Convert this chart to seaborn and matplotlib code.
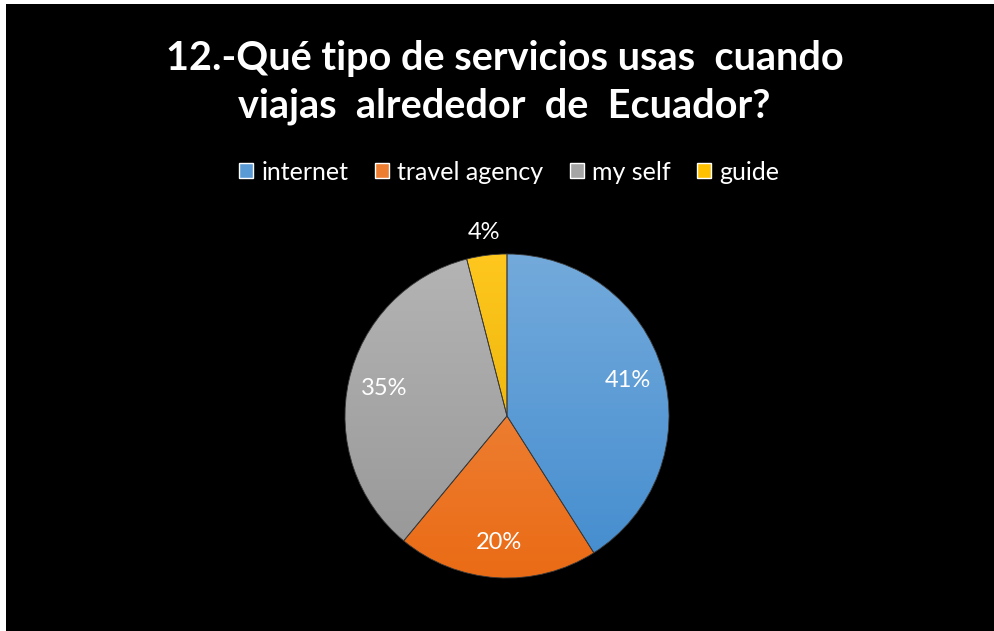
import colorsys
import numpy as np
import matplotlib
matplotlib.use("Agg")
import matplotlib.pyplot as plt
import matplotlib.colors as mcolors
from matplotlib.patches import Rectangle
import seaborn as sns

# data
categories = ["internet", "travel agency", "my self", "guide"]
shares = [41, 20, 35, 4]
colors = ["#5B9BD5", "#ED7D31", "#A5A5A5", "#FFC000"]
title = "12.-Qué tipo de servicios usas  cuando\nviajas  alrededor  de  Ecuador?"

sns.set_theme(style="white")
plt.rcParams["font.family"] = ["Lato", "DejaVu Sans"]

fig = plt.figure(figsize=(9.95, 6.31), dpi=100)
fig.patch.set_facecolor("black")
# thin white strips on the top and left edge as in the screenshot
fig.add_artist(Rectangle((0, 1 - 4 / 631), 1, 4 / 631, transform=fig.transFigure,
                         facecolor="white", edgecolor="none"))
fig.add_artist(Rectangle((0, 0), 6 / 995, 1, transform=fig.transFigure,
                         facecolor="white", edgecolor="none"))

cx, cy, r = 507, 416, 162
ax = fig.add_axes([(cx - r) / 995, (631 - cy - r) / 631, 2 * r / 995, 2 * r / 631])
ax.set_facecolor("black")

palette = sns.color_palette(colors)
wedges, texts, autotexts = ax.pie(
    shares, colors=palette, startangle=90, counterclock=False,
    autopct="%1.0f%%", pctdistance=0.78,
    wedgeprops=dict(edgecolor="#3a3a3a", linewidth=0.6),
    textprops=dict(color="white", fontsize=17),
)
ax.set_xlim(-1, 1)
ax.set_ylim(-1, 1)
ax.set_aspect("equal")
ax.axis("off")


def shade(c, dl):
    h, l, s = colorsys.rgb_to_hls(*mcolors.to_rgb(c))
    return np.array(colorsys.hls_to_rgb(h, min(max(l + dl, 0), 1), s))


# vertical gradient (lighter at top) clipped to each wedge, like the Excel fill
for w, c in zip(wedges, colors):
    top = shade(c, 0.06)
    bot = shade(c, -0.06)
    t = np.linspace(0, 1, 256)[:, None]
    grad = top * (1 - t[..., None]) + bot * t[..., None]
    grad = np.repeat(grad, 2, axis=1)
    im = ax.imshow(grad, extent=[-1, 1, -1, 1], origin="upper", zorder=0.5,
                   aspect="auto")
    im.set_clip_path(w)
    w.set_facecolor("none")
    w.set_zorder(1)

# small slice label sits outside the pie
x, y = autotexts[3].get_position()
autotexts[3].set_position((x * 1.14 / 0.78, y * 1.14 / 0.78))
for t in autotexts:
    t.set_zorder(3)

fig.text(0.507, 0.870, title, ha="center", va="center", color="white",
         fontsize=28.5, fontweight="bold", linespacing=1.35)

handles = [Rectangle((0, 0), 1, 1, facecolor=c) for c in colors]
fig.legend(handles, categories, loc="center", bbox_to_anchor=(0.512, 0.727),
           ncol=4, frameon=False, fontsize=18, labelcolor="white",
           handlelength=0.55, handleheight=0.55, handletextpad=0.35,
           columnspacing=1.05)

fig.savefig("out.png", dpi=100, facecolor=fig.get_facecolor())
